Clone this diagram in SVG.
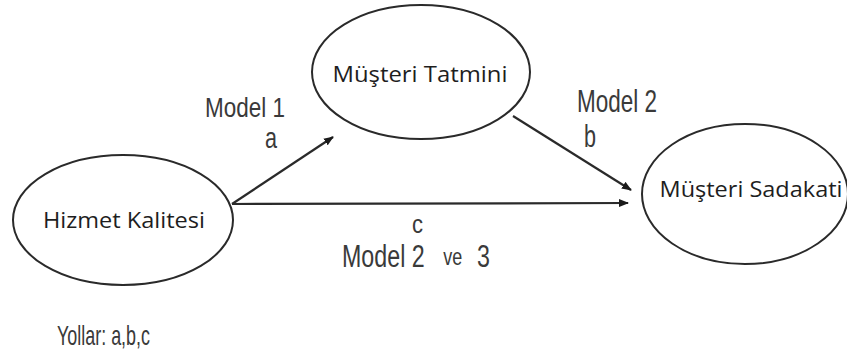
<svg xmlns="http://www.w3.org/2000/svg" width="847" height="351" viewBox="0 0 847 351">
<style>
.node ellipse{fill:#fff;stroke:#2a2a2a;stroke-width:2}
.node text{font-family:"Open Sans","Noto Sans",sans-serif;font-size:22px;fill:#1e1e1e;text-anchor:middle}
.conn line{stroke:#2a2a2a;stroke-width:2.2}
.lbl{font-family:"Liberation Sans",Arial,sans-serif;fill:#3a3a3a}
</style>
<defs>
<marker id="ah" markerWidth="10" markerHeight="8" refX="9" refY="4" orient="auto" markerUnits="userSpaceOnUse">
<path d="M0,0 L10,4 L0,8 Z" fill="#1a1a1a"/>
</marker>
</defs>
<rect width="847" height="351" fill="#fff"/>
<g id="hizmet" class="node">
<ellipse cx="123" cy="220" rx="110" ry="65"/>
<text x="124" y="228" textLength="162" lengthAdjust="spacingAndGlyphs">Hizmet Kalitesi</text>
</g>
<g id="tatmini" class="node">
<ellipse cx="421" cy="72" rx="109" ry="67"/>
<text x="420" y="82" textLength="175" lengthAdjust="spacingAndGlyphs">Müşteri Tatmini</text>
</g>
<g id="sadakati" class="node">
<ellipse cx="745" cy="194" rx="103" ry="70"/>
<text x="751" y="197" textLength="183" lengthAdjust="spacingAndGlyphs">Müşteri Sadakati</text>
</g>
<g id="connectors" class="conn">
<line x1="232" y1="204" x2="333" y2="137" marker-end="url(#ah)"/>
<line x1="513" y1="116" x2="631" y2="190" marker-end="url(#ah)"/>
<line x1="232" y1="204" x2="628" y2="203" marker-end="url(#ah)"/>
</g>
<g id="labels" class="lbl">
<text x="205" y="117" font-size="28" textLength="80" lengthAdjust="spacingAndGlyphs">Model 1</text>
<text x="265" y="148" font-size="30" textLength="12" lengthAdjust="spacingAndGlyphs">a</text>
<text x="577" y="112" font-size="32" textLength="80" lengthAdjust="spacingAndGlyphs">Model 2</text>
<text x="584" y="147" font-size="32" textLength="12" lengthAdjust="spacingAndGlyphs">b</text>
<text x="412" y="233" font-size="26" textLength="11" lengthAdjust="spacingAndGlyphs">c</text>
<text transform="translate(342,267) scale(0.75,1)" font-size="31"><tspan x="0" y="0">Model 2</tspan><tspan x="135" y="-2" font-size="24">ve</tspan><tspan x="180" y="0">3</tspan></text>
<text x="57" y="345" font-size="28" textLength="93" lengthAdjust="spacingAndGlyphs">Yollar: a,b,c</text>
</g>
</svg>
